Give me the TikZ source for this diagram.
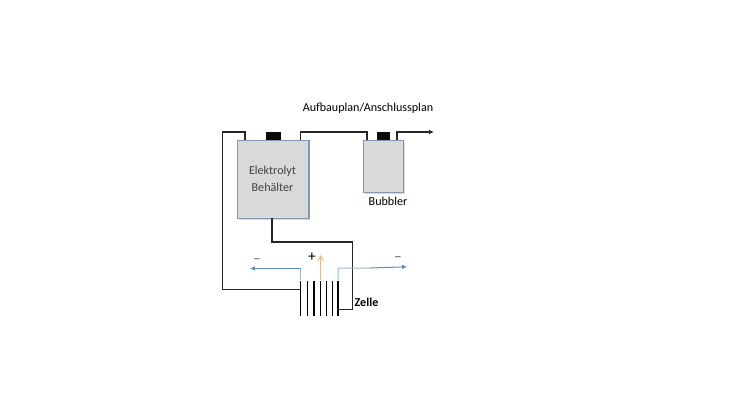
\documentclass[tikz,border=0pt]{standalone}
\usepackage{fontspec}
\setmainfont{Carlito}
\usetikzlibrary{arrows.meta,shadows}
\definecolor{tankfill}{HTML}{D9D9D9}
\definecolor{tankline}{HTML}{8496B0}
\definecolor{flowblue}{HTML}{5B8DC4}
\definecolor{flowfeed}{HTML}{9DB8CC}
\definecolor{floworange}{HTML}{E9B98F}
\definecolor{capblack}{HTML}{0A0A0A}
\begin{document}
\begin{tikzpicture}[
  x=0.25mm, y=-0.25mm,
  tank/.style={draw=tankline, fill=tankfill, line width=0.35mm, inner sep=0pt, anchor=north west,
    drop shadow={shadow xshift=0.3mm, shadow yshift=-0.3mm, opacity=0.3}},
  lid/.style={fill=capblack, inner sep=0pt, anchor=north west},
  plate/.style={fill=black, inner sep=0pt, minimum width=0.3mm, minimum height=8.9mm},
  pipe/.style={draw=black!85, line width=0.4mm, line join=miter},
  lbl/.style={inner sep=0pt, font=\fontsize{8.6}{10}\selectfont},
  sign/.style={inner sep=0pt, font=\fontsize{11}{12}\selectfont}
]
\useasboundingbox (0,0) rectangle (734,413);

\node[tank, minimum width=17.8mm, minimum height=19.5mm] (tankE) at (237,140) {};
\node[tank, minimum width=10mm, minimum height=13mm] (tankB) at (363,140) {};
\node[lid, minimum width=3.75mm, minimum height=2mm] (lidE) at (266,132) {};
\node[lid, minimum width=3.25mm, minimum height=2mm] (lidB) at (377,132) {};

\node[lbl, text=black!75] (txtE) at (272.5,171) {Elektrolyt};
\node[lbl, text=black!75] (txtE2) at (272.5,187) {Behälter};
\node[lbl] (txtB) at (388,201.5) {Bubbler};
\node[lbl] (title) at (368,108) {Aufbauplan/Anschlussplan};

% plates of the cell
\foreach \i/\px in {1/300.7,2/307.3,3/314,4/320.7,5/326.7,6/332.7,7/338}
  \node[plate] (p\i) at (\px,298.5) {};
\node[lbl, font=\fontsize{8.6}{10}\selectfont\bfseries] (zelle) at (366.5,302) {Zelle};

\coordinate (inE) at (245,140);
\coordinate (outE) at (300.5,140);
\coordinate (inB) at (367,140);
\coordinate (outB) at (397,140);
\coordinate (vent) at (434,132);
\coordinate (drain) at (272,218);
\coordinate (p1in) at (300.7,289.5);
\coordinate (p7in) at (338,309.5);
\coordinate (minusL) at (250,268.5);
\coordinate (minusR) at (407,266.8);
\coordinate (plusT) at (320.7,255);

\draw[pipe] (p1in) -- (222.5,289.5) |- (inE |- lidE.north) -- (inE);
\draw[pipe] (outE) -- (outE |- lidE.north) -| (inB);
\draw[pipe, -{Latex[length=1.2mm,width=1.1mm]}] (outB) -- (outB |- lidE.north) -- (vent);
\draw[pipe] (drain) |- (352.5,242) |- (p7in);

\draw[flowfeed, line width=0.25mm] (p1.north) -- (p1.north |- minusL);
\draw[flowblue, line width=0.25mm, -{Latex[length=1.2mm,width=1.2mm]}] (p1.north |- minusL) -- (minusL);
\draw[flowfeed, line width=0.25mm] (p7.north) -- (338,268.2) -- (370,268);
\draw[flowblue, line width=0.25mm, -{Latex[length=1.2mm,width=1.2mm]}] (370,268) -- (minusR);
\draw[floworange, line width=0.25mm, -{Straight Barb[length=1.2mm,width=1.4mm]}] (p4.north) -- (plusT);

\node[sign] (plus) at (312,257.5) {+};
\node[sign, text=black!60] (minus1) at (257,261.5) {--};
\node[sign, text=black!60] (minus2) at (398,259) {--};
\end{tikzpicture}
\end{document}
